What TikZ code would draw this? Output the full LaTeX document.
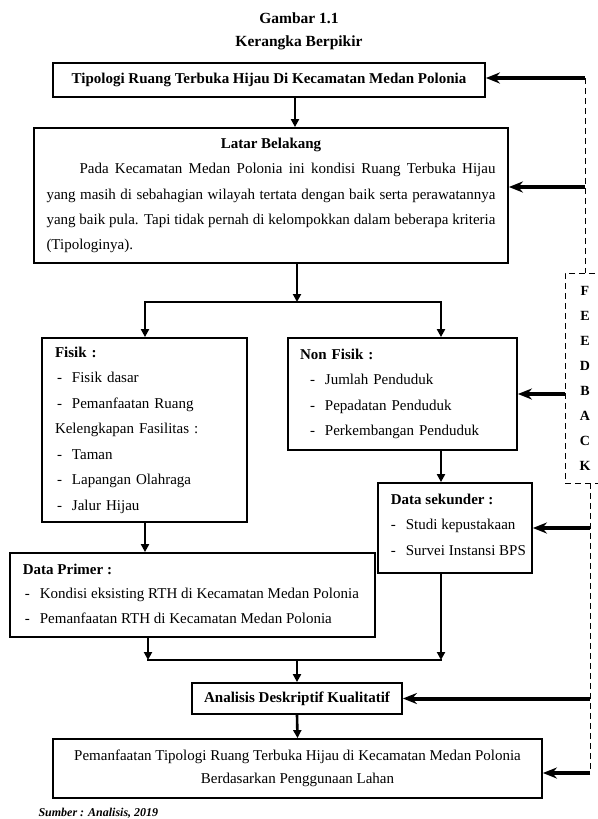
\documentclass[tikz,border=0pt]{standalone}
\usepackage{fontspec}
\setmainfont{Liberation Serif}
\usetikzlibrary{arrows.meta,positioning}

\newcommand{\itm}[2][0pt]{\hspace*{#1}\makebox[15pt][l]{-}#2}

\tikzset{
  box/.style={draw, line width=1.8pt, inner sep=0pt},
  txtbox/.style={box, inner xsep=12pt, align=left, font=\fontsize{15}{25.5}\selectfont},
  txt/.style={draw=none, inner sep=0pt, minimum width=0pt, minimum height=0pt,
              align=left, font=\fontsize{15}{25.5}\selectfont},
  flow/.style={line width=2.6pt, -{Triangle[length=8pt,width=8pt]}},
  bar/.style={line width=2.6pt, line cap=rect},
  fbarrow/.style={line width=4pt, -{Stealth[length=14pt,width=11pt]}},
  fbline/.style={line width=0.9pt, dash pattern=on 6pt off 4pt},
}

\begin{document}
\begin{tikzpicture}[x=1pt,y=-1pt]
  \useasboundingbox (0,0) rectangle (597,819);

  % judul gambar
  \node[font=\bfseries\fontsize{15.5}{18}\selectfont] (gambar) at (299,18) {Gambar 1.1};
  \node[font=\bfseries\fontsize{15.5}{18}\selectfont] (kerangka) at (299,43) {Kerangka Berpikir};

  % kotak-kotak
  \node[box, minimum width=432, minimum height=34, font=\bfseries\fontsize{15}{18}\selectfont]
    (tipologi) at (269,80) {Tipologi Ruang Terbuka Hijau Di Kecamatan Medan Polonia};

  \node[box, minimum width=474, minimum height=135, text width=449, align=justify,
        font=\fontsize{15}{25.3}\selectfont] (latar) at (271,195.5)
    {\centerline{\textbf{Latar Belakang}}
     \hspace*{33pt}Pada Kecamatan Medan Polonia ini kondisi Ruang Terbuka Hijau\linebreak
     yang masih di sebahagian wilayah tertata dengan baik serta perawatannya\linebreak
     yang baik pula. Tapi tidak pernah di kelompokkan dalam beberapa kriteria\linebreak
     (Tipologinya).};

  \node[txtbox, inner xsep=13pt, text width=179, minimum height=184] (fisik) at (144.5,430)
    {\textbf{Fisik :}\\
     \itm[2pt]{Fisik dasar}\\
     \itm[2pt]{Pemanfaatan Ruang}\\
     Kelengkapan Fasilitas :\\
     \itm[2pt]{Taman}\\
     \itm[2pt]{Lapangan Olahraga}\\
     \itm[2pt]{Jalur Hijau}};

  \node[txtbox, text width=205, minimum height=112] (nonfisik) at (402.5,394)
    {\textbf{Non Fisik :}\\
     \itm[10pt]{Jumlah Penduduk}\\
     \itm[10pt]{Pepadatan Penduduk}\\
     \itm[10pt]{Perkembangan Penduduk}};

  \node[box, minimum width=154, minimum height=90, path picture={
      \node[txt, anchor=north west] (sekunderTxt)
        at ([xshift=12pt,yshift=-10pt]path picture bounding box.north west)
        {\textbf{Data sekunder :}\\
         \itm{Studi kepustakaan}\\
         \itm{Survei Instansi BPS}};
    }] (sekunder) at (455,528) {};

  \node[box, minimum width=365, minimum height=84, path picture={
      \node[txt, anchor=north west, font=\fontsize{15}{24.5}\selectfont] (primerTxt)
        at ([xshift=12pt,yshift=-10pt]path picture bounding box.north west)
        {\textbf{Data Primer :}\\
         \itm[2pt]{Kondisi eksisting RTH di Kecamatan Medan Polonia}\\
         \itm[2pt]{Pemanfaatan RTH di Kecamatan Medan Polonia}};
    }] (primer) at (192.5,595) {};

  \node[box, minimum width=210, minimum height=31, font=\bfseries\fontsize{15}{18}\selectfont]
    (analisis) at (297,698.5) {Analisis Deskriptif Kualitatif};

  \node[box, minimum width=489, minimum height=59, align=center,
        font=\fontsize{15}{23}\selectfont] (hasil) at (297.5,768.5)
    {Pemanfaatan Tipologi Ruang Terbuka Hijau di Kecamatan Medan Polonia\\
     Berdasarkan Penggunaan Lahan};

  \node[anchor=west, font=\bfseries\itshape\fontsize{12}{14}\selectfont] (sumber) at (35,813)
    {Sumber : Analisis, 2019};

  % feedback
  \node[draw, fbline, minimum width=40, minimum height=210, align=center,
        font=\bfseries\fontsize{14}{25}\selectfont] (fb) at (585,378)
    {F\\E\\E\\D\\B\\A\\C\\K};

  \coordinate (fbTop) at (585,78);
  \coordinate (fbLatar) at (585,187);
  \coordinate (fbEnd) at (590,773);

  % alur utama
  \coordinate (splitC) at (297,302);
  \coordinate (splitL) at (145,302);
  \coordinate (splitR) at (441,302);
  \coordinate (mergeL) at (148,660);
  \coordinate (mergeC) at (297,660);
  \coordinate (mergeR) at (441,660);

  \draw[flow] (tipologi.south -| 295,0) -- (latar.north -| 295,0);
  \draw[flow] (splitC |- latar.south) -- (splitC);
  \draw[bar] (splitL) -- (splitR);
  \draw[flow] (splitL) -- (splitL |- fisik.north);
  \draw[flow] (splitR) -- (splitR |- nonfisik.north);
  \draw[flow] (splitR |- nonfisik.south) -- (splitR |- sekunder.north);
  \draw[flow] (splitL |- fisik.south) -- (splitL |- primer.north);
  \draw[flow] (mergeL |- primer.south) -- (mergeL);
  \draw[flow] (mergeR |- sekunder.south) -- (mergeR);
  \draw[bar] (mergeL) -- (mergeR);
  \draw[flow] (mergeC) -- (analisis.north);
  \draw[flow] (analisis.south) -- (hasil.north);

  % garis feedback
  \draw[fbline] (fbTop) -- (fbTop |- fb.north);
  \draw[fbline] (fbEnd |- fb.south) -- (fbEnd);
  \draw[fbarrow] (fbTop) -- (fbTop -| tipologi.east);
  \draw[fbarrow] (fbLatar) -- (fbLatar -| latar.east);
  \draw[fbarrow] (nonfisik.east -| fb.west) -- (nonfisik.east);
  \draw[fbarrow] (sekunder.east -| fbEnd) -- (sekunder.east);
  \draw[fbarrow] (analisis.east -| fbEnd) -- (analisis.east);
  \draw[fbarrow] (fbEnd) -- (fbEnd -| hasil.east);
\end{tikzpicture}
\end{document}
